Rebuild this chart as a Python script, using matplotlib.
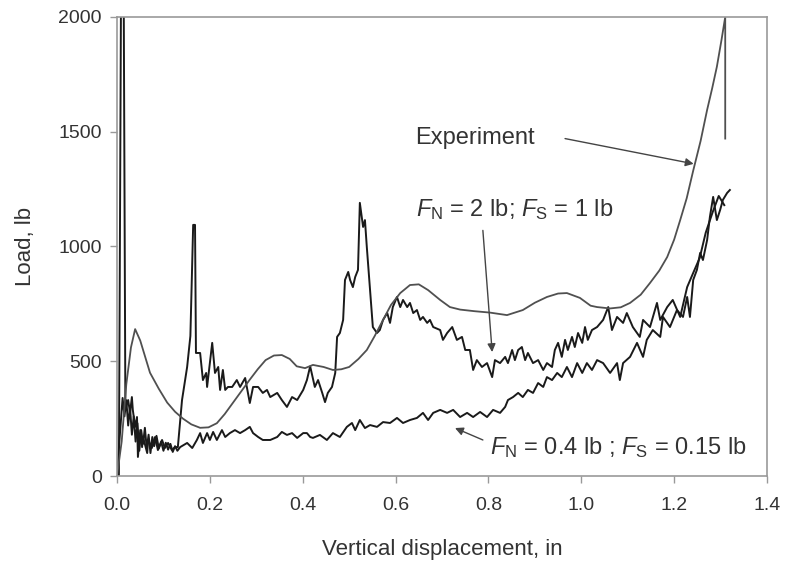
"""Load vs vertical displacement: experiment and two friction settings."""

import matplotlib
matplotlib.use("Agg")
import matplotlib.pyplot as plt

plt.rcParams["font.family"] = ["Liberation Sans", "DejaVu Sans"]
plt.rcParams["mathtext.fontset"] = "custom"
plt.rcParams["mathtext.rm"] = "Liberation Sans"
plt.rcParams["mathtext.it"] = "Liberation Sans:italic"

# Experiment (smooth curve)
exp_x = [0.0, 0.01, 0.02, 0.03, 0.039, 0.05, 0.071, 0.09, 0.108, 0.125, 0.142,
         0.16, 0.179, 0.197, 0.215, 0.232, 0.25, 0.268, 0.286, 0.303, 0.32,
         0.338, 0.355, 0.372, 0.387, 0.405, 0.422, 0.445, 0.465, 0.483, 0.50,
         0.52, 0.538, 0.555, 0.573, 0.59, 0.61, 0.631, 0.65, 0.67, 0.696,
         0.717, 0.739, 0.77, 0.803, 0.84, 0.874, 0.90, 0.926, 0.95, 0.969,
         0.997, 1.02, 1.034, 1.062, 1.085, 1.105, 1.128, 1.148, 1.168, 1.185,
         1.20, 1.213, 1.227, 1.241, 1.257, 1.271, 1.282, 1.292, 1.302, 1.31,
         1.31]
exp_y = [0, 150, 400, 560, 640, 590, 450, 380, 320, 280, 250,
         225, 210, 212, 230, 270, 320, 370, 420, 465, 505,
         525, 527, 510, 478, 470, 484, 475, 462, 465, 475,
         510, 549, 610, 680, 745, 797, 832, 835, 810, 767,
         736, 725, 718, 712, 701, 723, 755, 780, 795, 797,
         776, 742, 736, 730, 735, 754, 790, 841, 895, 954,
         1030, 1115, 1210, 1330, 1460, 1595, 1690, 1783, 1900, 2000,
         1470]

# F_N = 2 lb; F_S = 1 lb
fn2_x = [0.0, 0.004, 0.009, 0.014, 0.018, 0.024, 0.028, 0.032, 0.034, 0.039,
         0.043, 0.045, 0.050, 0.054, 0.056, 0.065, 0.067, 0.075, 0.082, 0.088,
         0.097, 0.103, 0.110, 0.118, 0.125, 0.131, 0.140, 0.151, 0.158, 0.164,
         0.168, 0.170, 0.179, 0.185, 0.192, 0.194, 0.205, 0.211, 0.218, 0.222,
         0.228, 0.233, 0.239, 0.248, 0.258, 0.265, 0.276, 0.286, 0.293, 0.304,
         0.314, 0.323, 0.330, 0.345, 0.355, 0.366, 0.377, 0.388, 0.401, 0.409,
         0.416, 0.426, 0.433, 0.442, 0.448, 0.454, 0.463, 0.470, 0.474, 0.480,
         0.487, 0.491, 0.498, 0.502, 0.508, 0.513, 0.519, 0.523, 0.528, 0.530,
         0.534, 0.538, 0.545, 0.551, 0.560, 0.566, 0.573, 0.582, 0.588, 0.594,
         0.603, 0.610, 0.616, 0.625, 0.631, 0.638, 0.646, 0.653, 0.659, 0.668,
         0.674, 0.681, 0.696, 0.702, 0.711, 0.722, 0.732, 0.743, 0.750, 0.760,
         0.767, 0.775, 0.786, 0.797, 0.808, 0.814, 0.825, 0.836, 0.842, 0.851,
         0.857, 0.864, 0.872, 0.879, 0.885, 0.896, 0.907, 0.918, 0.926, 0.937,
         0.943, 0.950, 0.958, 0.965, 0.971, 0.980, 0.986, 0.993, 1.002, 1.008,
         1.014, 1.023, 1.034, 1.047, 1.058, 1.066, 1.077, 1.090, 1.098, 1.111,
         1.126, 1.133, 1.148, 1.163, 1.170, 1.185, 1.197, 1.213, 1.228, 1.240,
         1.255, 1.268, 1.283, 1.296, 1.308]
fn2_y = [0, 0, 2300, 2300, 290, 331, 275, 344, 288, 214,
         257, 83, 200, 126, 170, 100, 157, 122, 170, 113,
         157, 122, 144, 113, 126, 126, 331, 475, 610, 1094,
         1094, 536, 536, 418, 449, 388, 580, 449, 475, 375,
         462, 375, 388, 388, 418, 388, 427, 318, 388, 388,
         362, 375, 344, 362, 331, 301, 344, 331, 375, 418,
         478, 388, 418, 362, 322, 362, 388, 449, 606, 623,
         680, 854, 889, 854, 823, 867, 898, 1190, 1115, 1085,
         1115, 998, 810, 649, 623, 636, 680, 710, 667, 736,
         780, 736, 767, 736, 754, 710, 723, 680, 693, 667,
         680, 649, 636, 593, 623, 649, 593, 606, 549, 549,
         462, 505, 475, 492, 431, 505, 492, 519, 492, 549,
         505, 549, 562, 505, 536, 492, 505, 462, 492, 475,
         549, 580, 519, 593, 549, 606, 562, 623, 580, 649,
         593, 636, 649, 680, 736, 636, 693, 667, 710, 649,
         606, 680, 649, 754, 680, 736, 767, 693, 823, 880,
         950, 1060, 1150, 1220, 1180]

# F_N = 0.4 lb; F_S = 0.15 lb
fn04_x = [0.0, 0.005, 0.012, 0.016, 0.020, 0.024, 0.028, 0.032, 0.036, 0.040,
          0.044, 0.048, 0.052, 0.056, 0.060, 0.064, 0.068, 0.072, 0.076, 0.080,
          0.085, 0.090, 0.095, 0.100, 0.105, 0.110, 0.115, 0.120, 0.125, 0.130,
          0.136, 0.151, 0.162, 0.172, 0.179, 0.185, 0.194, 0.200, 0.207, 0.215,
          0.226, 0.233, 0.243, 0.254, 0.265, 0.276, 0.286, 0.293, 0.304, 0.314,
          0.330, 0.345, 0.355, 0.366, 0.377, 0.388, 0.401, 0.409, 0.416, 0.422,
          0.437, 0.452, 0.465, 0.480, 0.495, 0.506, 0.513, 0.523, 0.534, 0.545,
          0.560, 0.573, 0.588, 0.603, 0.616, 0.631, 0.646, 0.659, 0.670, 0.681,
          0.696, 0.711, 0.724, 0.739, 0.754, 0.767, 0.782, 0.797, 0.810, 0.825,
          0.836, 0.842, 0.853, 0.864, 0.874, 0.885, 0.896, 0.907, 0.918, 0.926,
          0.937, 0.948, 0.958, 0.969, 0.980, 0.991, 1.002, 1.012, 1.023, 1.034,
          1.047, 1.062, 1.077, 1.083, 1.090, 1.105, 1.120, 1.133, 1.141, 1.154,
          1.170, 1.176, 1.191, 1.206, 1.219, 1.228, 1.234, 1.241, 1.249, 1.256,
          1.262, 1.271, 1.277, 1.284, 1.292, 1.299, 1.305, 1.314, 1.320]
fn04_y = [0, 150, 340, 260, 330, 220, 300, 180, 260, 150,
          230, 110, 200, 140, 210, 120, 180, 100, 170, 130,
          175, 120, 150, 110, 145, 115, 140, 105, 130, 110,
          126, 144, 122, 157, 187, 144, 187, 157, 192, 157,
          200, 170, 187, 200, 187, 200, 214, 187, 170, 157,
          157, 170, 192, 179, 187, 166, 187, 187, 170, 166,
          179, 157, 187, 170, 214, 231, 200, 244, 209, 222,
          214, 235, 231, 253, 231, 244, 253, 275, 244, 275,
          288, 275, 288, 257, 275, 257, 279, 257, 288, 275,
          301, 331, 344, 362, 344, 375, 362, 405, 388, 431,
          418, 449, 431, 475, 431, 492, 449, 492, 462, 505,
          492, 449, 492, 418, 492, 519, 580, 519, 593, 636,
          606, 693, 649, 723, 693, 780, 693, 854, 898, 972,
          941, 1028, 1129, 1216, 1115, 1159, 1203, 1233, 1246]

x_ticks = [0.0, 0.2, 0.4, 0.6, 0.8, 1.0, 1.2, 1.4]
y_ticks = [0, 500, 1000, 1500, 2000]

fig = plt.figure(figsize=(7.87, 5.64), dpi=100)
ax = fig.add_axes([0.1487, 0.156, 0.8259, 0.814])

ax.plot(fn04_x, fn04_y, color="#1a1a1a", linewidth=1.4)
ax.plot(fn2_x, fn2_y, color="#1a1a1a", linewidth=1.4)
ax.plot(exp_x, exp_y, color="#505050", linewidth=1.3)

ax.set_xlim(0, 1.4)
ax.set_ylim(0, 2000)
ax.set_xticks(x_ticks)
ax.set_xticklabels([f"{v:.1f}" for v in x_ticks])
ax.set_yticks(y_ticks)
ax.set_yticklabels([str(v) for v in y_ticks])

for s in ax.spines.values():
    s.set_color("#999999")
    s.set_linewidth(1.2)
ax.tick_params(direction="out", length=5, width=1.0, color="#999999",
               labelsize=14, labelcolor="#333333")
ax.tick_params(axis="x", pad=10)
ax.tick_params(axis="y", pad=6)

ax.set_xlabel("Vertical displacement, in", fontsize=16, color="#333333",
              labelpad=18)
ax.set_ylabel("Load, lb", fontsize=16, color="#333333", labelpad=16)

arrow = dict(arrowstyle="-|>", color="#444444", lw=1.0,
             mutation_scale=12, shrinkA=0, shrinkB=0)

ax.annotate("", xy=(1.242, 1360), xytext=(0.965, 1470), arrowprops=arrow)
ax.text(0.643, 1473, "Experiment", fontsize=17, color="#333333",
        va="center", ha="left")

ax.annotate("", xy=(0.808, 540), xytext=(0.788, 1070), arrowprops=arrow)
ax.text(0.643, 1159, r"$\mathit{F}_{\mathrm{N}}$ = 2 lb; $\mathit{F}_{\mathrm{S}}$ = 1 lb",
        fontsize=17, color="#333333", va="center", ha="left")

ax.annotate("", xy=(0.728, 209), xytext=(0.788, 157), arrowprops=arrow)
ax.text(0.803, 126, r"$\mathit{F}_{\mathrm{N}}$ = 0.4 lb ; $\mathit{F}_{\mathrm{S}}$ = 0.15 lb",
        fontsize=17, color="#333333", va="center", ha="left")

fig.savefig("out.png", dpi=100)
plt.close(fig)
